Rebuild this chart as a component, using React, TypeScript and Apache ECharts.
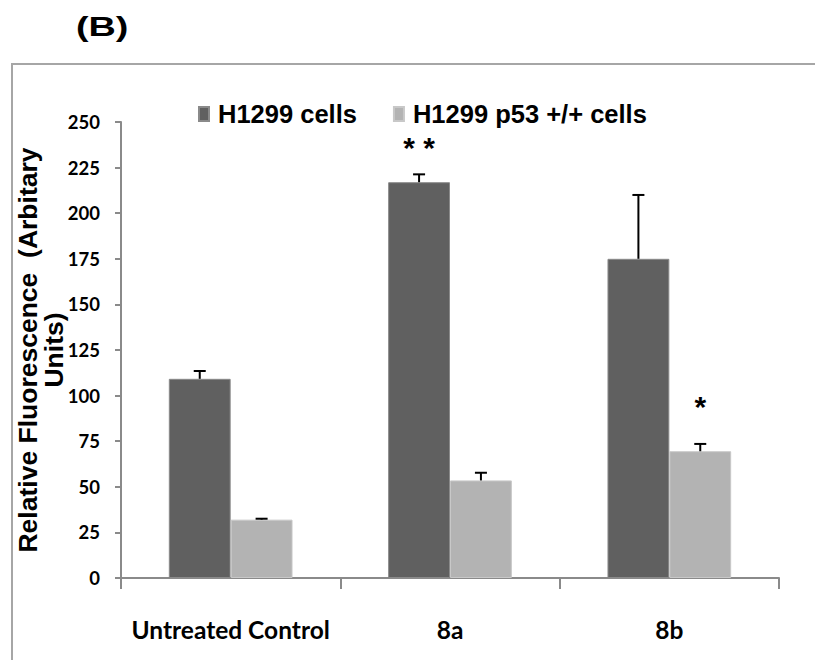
import React, { useEffect, useRef } from "react";
import * as echarts from "echarts";

const categories = ["Untreated Control", "8a", "8b"];
const seriesNames = ["H1299 cells", "H1299 p53 +/+ cells"];
const h1299Values = [109.2, 217, 175];
const h1299Errors = [4.3, 4.3, 35];
const p53Values = [32, 53.5, 69.5];
const p53Errors = [0.5, 4.2, 4];
const h1299Marks = ["", "* *", ""];
const p53Marks = ["", "", "*"];
const yTicks = { min: 0, max: 250, interval: 25 };

const BAR_FRAC = 0.282;

export default function App() {
  const ref = useRef<HTMLDivElement>(null);
  useEffect(() => {
    if (!ref.current) return;
    const chart = echarts.init(ref.current, null, { renderer: "svg" });

    const barData = (vals: number[], marks: string[], dist: number) =>
      vals.map((v, i) =>
        marks[i]
          ? {
              value: v,
              label: {
                show: true,
                position: "top",
                distance: dist,
                formatter: marks[i],
                fontFamily: "Liberation Sans",
                fontWeight: "bold",
                fontSize: 30,
                color: "#000",
              },
            }
          : v
      );

    const errSeries = (vals: number[], errs: number[], side: number) => ({
      type: "custom",
      silent: true,
      z: 5,
      data: vals.map((v, i) => [i, v, v + errs[i]]),
      renderItem: (params: any, api: any) => {
        const idx = api.value(0);
        const lo = api.coord([idx, api.value(1)]);
        const hi = api.coord([idx, api.value(2)]);
        const band = api.size([1, 0])[0];
        const x = lo[0] + (side * band * BAR_FRAC) / 2;
        const cap = 6;
        const style = { stroke: "#000", lineWidth: 2 };
        return {
          type: "group",
          children: [
            { type: "line", shape: { x1: x, y1: lo[1], x2: x, y2: hi[1] }, style },
            { type: "line", shape: { x1: x - cap, y1: hi[1], x2: x + cap, y2: hi[1] }, style },
          ],
        };
      },
    });

    chart.setOption({
      animation: false,
      backgroundColor: "#fff",
      graphic: [
        {
          type: "rect",
          shape: { x: 12, y: 64, width: 830, height: 620 },
          style: { fill: "none", stroke: "#a6a6a6", lineWidth: 2 },
        },
        {
          type: "text",
          x: 76,
          y: 13,
          scaleX: 1.4,
          style: {
            text: "(B)",
            fontFamily: "Liberation Sans",
            fontWeight: "bold",
            fontSize: 27,
            fill: "#000",
          },
        },
      ],
      legend: {
        left: 193,
        top: 96,
        itemWidth: 10,
        itemHeight: 14,
        itemGap: 36,
        icon: "rect",
        textStyle: {
          fontFamily: "Liberation Sans",
          fontWeight: "bold",
          fontSize: 25.5,
          color: "#000",
          padding: [0, 0, 0, 4],
        },
        data: seriesNames,
      },
      grid: { left: 121, right: 36, top: 122, bottom: 82, outerBoundsMode: "none", containLabel: false },
      xAxis: {
        type: "category",
        data: categories,
        axisLine: { lineStyle: { color: "#8a8a8a", width: 2 } },
        axisTick: { show: true, length: 11, lineStyle: { color: "#8a8a8a", width: 2 } },
        axisLabel: {
          interval: 0,
          margin: 39,
          fontFamily: "Lato",
          fontWeight: "bold",
          fontSize: 24.5,
          color: "#000",
        },
      },
      yAxis: {
        type: "value",
        min: yTicks.min,
        max: yTicks.max,
        interval: yTicks.interval,
        splitLine: { show: false },
        axisLine: { show: true, lineStyle: { color: "#8a8a8a", width: 2 } },
        axisTick: { show: true, length: 6, lineStyle: { color: "#8a8a8a", width: 2 } },
        axisLabel: {
          margin: 21,
          fontFamily: "Lato",
          fontWeight: "bold",
          fontSize: 18.5,
          color: "#000",
        },
        name: "Relative Fluorescence  (Arbitary\nUnits)",
        nameLocation: "middle",
        nameGap: 54,
        nameMoveOverlap: false,
        nameTextStyle: {
          fontFamily: "Liberation Sans",
          fontWeight: "bold",
          fontSize: 26.5,
          lineHeight: 26,
          color: "#000",
          align: "center",
        },
      },
      series: [
        {
          name: seriesNames[0],
          type: "bar",
          barWidth: BAR_FRAC * 100 + "%",
          barGap: "0%",
          itemStyle: { color: "#606060", borderColor: "#8a8a8a", borderWidth: 1 },
          data: barData(h1299Values, h1299Marks, 20),
        },
        {
          name: seriesNames[1],
          type: "bar",
          barWidth: BAR_FRAC * 100 + "%",
          barGap: "0%",
          itemStyle: { color: "#b3b3b3", borderColor: "#c8c8c8", borderWidth: 1 },
          data: barData(p53Values, p53Marks, 30),
        },
        errSeries(h1299Values, h1299Errors, -1),
        errSeries(p53Values, p53Errors, 1),
      ],
    });
    return () => chart.dispose();
  }, []);
  return (
    <div
      ref={ref}
      style={{ position: "fixed", left: 0, top: 0, width: 815, height: 660 }}
    />
  );
}
